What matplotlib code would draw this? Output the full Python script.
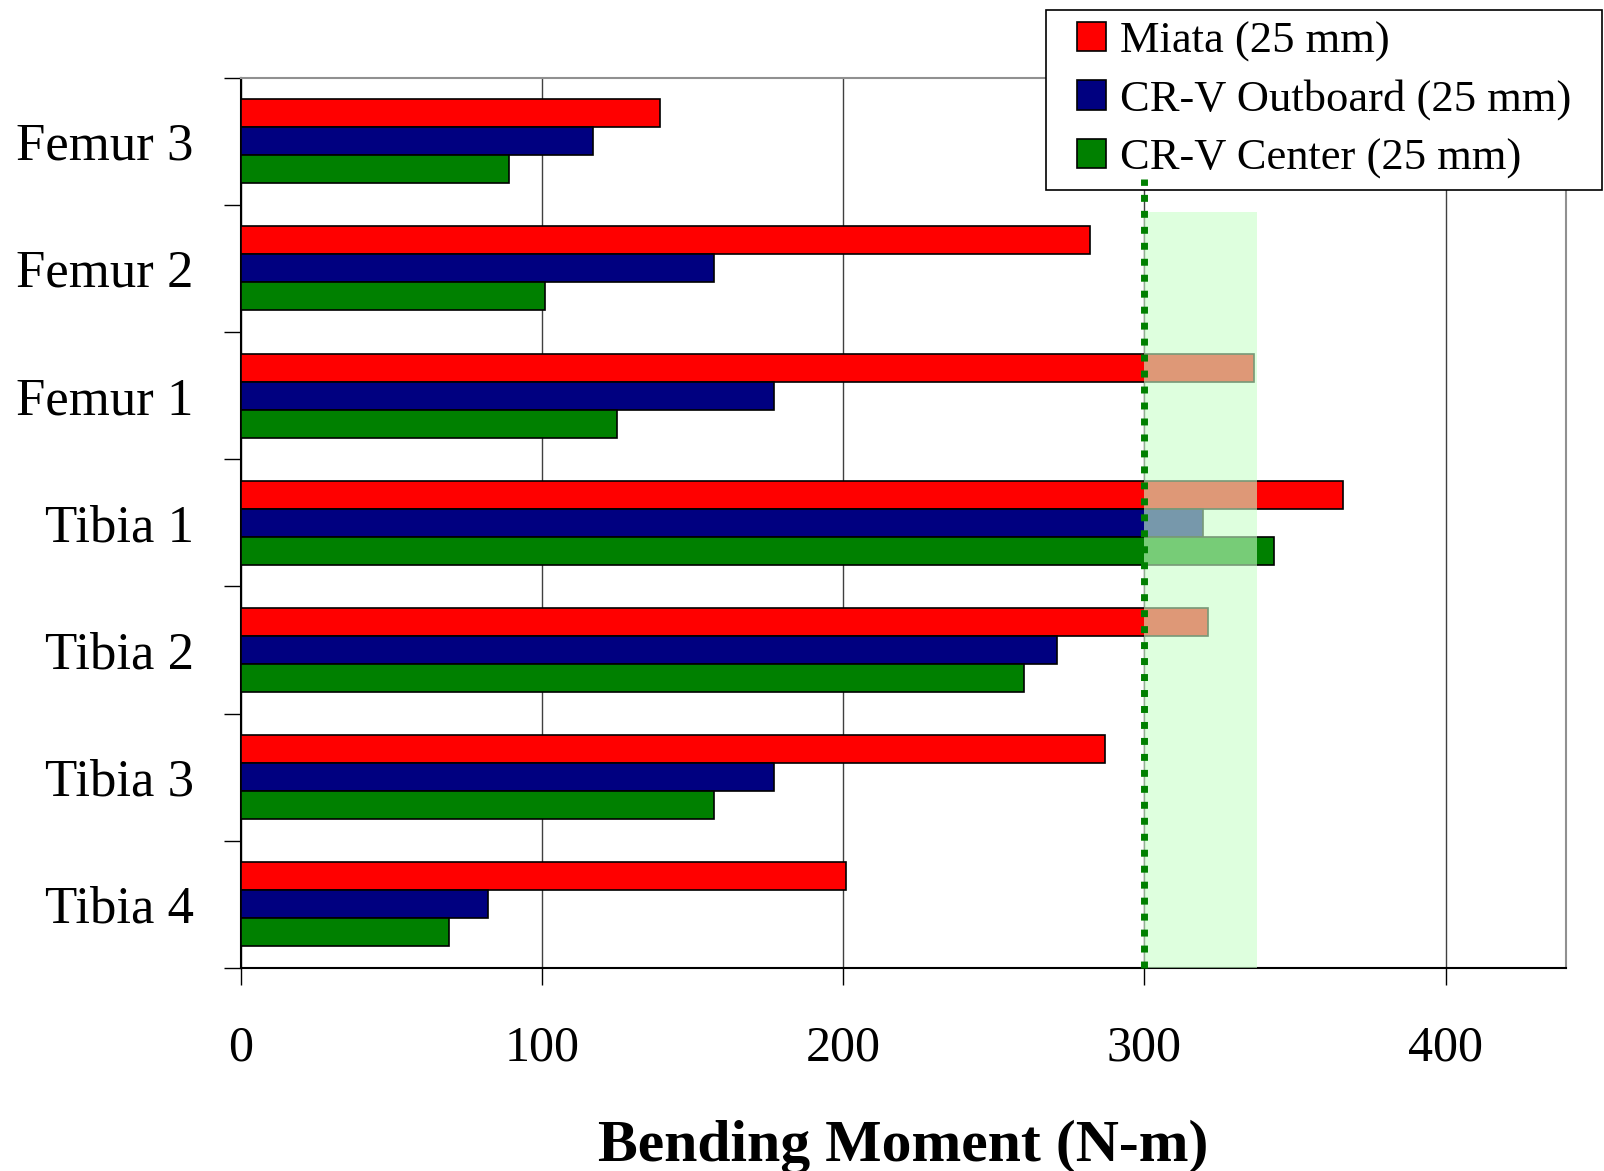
import numpy as np
import matplotlib
matplotlib.use("Agg")
import matplotlib.pyplot as plt
from matplotlib.path import Path
from matplotlib.ticker import FixedLocator

plt.rcParams['font.family'] = ['Liberation Serif', 'DejaVu Serif']

# categories listed top to bottom
categories = ['Femur 3', 'Femur 2', 'Femur 1', 'Tibia 1', 'Tibia 2', 'Tibia 3', 'Tibia 4']
series_names = ['Miata (25 mm)', 'CR-V Outboard (25 mm)', 'CR-V Center (25 mm)']
miata = [139, 282, 336.5, 366, 321, 287, 201]
crv_outboard = [117, 157, 177, 319.5, 271, 177, 82]
crv_center = [89, 101, 125, 343, 260, 157, 69]
colors = ['#ff0000', '#000080', '#008000']

# tolerance band and threshold
threshold = 300
band_end = 337.5
band_top = 5.94
line_top = 6.2
x_ticks = [0, 100, 200, 300, 400]

fig = plt.figure(figsize=(16.04, 11.71), dpi=100)
ax = fig.add_axes([0.1502, 0.1734, 0.8261, 0.7604])

n = len(categories)
centers = np.arange(n)[::-1] + 0.5
bar_h = 0.22
offsets = [bar_h, 0, -bar_h]

for vals, c, off, name in zip([miata, crv_outboard, crv_center], colors, offsets, series_names):
    ax.barh(centers + off, vals, height=bar_h, color=c, edgecolor='black',
            linewidth=1.2, label=name, zorder=3)

# light green band drawn over the bars
ax.fill_between([threshold, band_end], 0, band_top, color='#c8ffc8', alpha=0.6,
                linewidth=0, zorder=4)

ax.set_xlim(0, 440)
ax.set_ylim(0, n)
ax.set_xticks(x_ticks)
ax.set_xticklabels([str(t) for t in x_ticks], fontsize=36)
ax.xaxis.grid(True, color='#404040', linewidth=1.0, zorder=0)
ax.set_axisbelow(True)

ax.set_yticks(centers)
ax.set_yticklabels(categories, fontsize=38)
ax.yaxis.set_minor_locator(FixedLocator(np.arange(n + 1)))
ax.tick_params(axis='y', which='major', length=0, pad=34)
ax.tick_params(axis='y', which='minor', length=12, width=1, direction='out')
ax.tick_params(axis='x', which='major', length=12, width=1, direction='out', pad=29)

for side in ['top', 'right']:
    ax.spines[side].set_color('#909090')
    ax.spines[side].set_linewidth(1.5)
for side in ['left', 'bottom']:
    ax.spines[side].set_color('black')
    ax.spines[side].set_linewidth(1.5)

ax.set_xlabel('Bending Moment (N-m)', fontsize=43, fontweight='bold', labelpad=35)


# legend frame: extra padding left/right only
def wide_box(x0, y0, width, height, mutation_size):
    dx = 0.45 * mutation_size
    x1 = x0 + width + dx
    x0 = x0 - dx
    y1 = y0 + height
    return Path([(x0, y0), (x1, y0), (x1, y1), (x0, y1), (x0, y0)],
                [Path.MOVETO, Path.LINETO, Path.LINETO, Path.LINETO, Path.CLOSEPOLY])


leg = ax.legend(loc='upper right', bbox_to_anchor=(0.9865, 0.9915),
                bbox_transform=fig.transFigure, fontsize=32,
                frameon=True, fancybox=False, edgecolor='black', framealpha=1,
                handlelength=0.65, handleheight=0.65, handletextpad=0.32,
                labelspacing=0.4, borderpad=0.25, borderaxespad=0)
leg.get_frame().set_boxstyle(wide_box)
leg.get_frame().set_linewidth(1.2)
leg.set_zorder(6)

# dotted threshold line, sits over the legend bottom
ax.plot([threshold, threshold], [0, line_top], color='#008000', linewidth=5,
        linestyle=(0, (1.0, 1.3)), dash_capstyle='butt', zorder=7, clip_on=False)

fig.savefig('out.png', dpi=100)
